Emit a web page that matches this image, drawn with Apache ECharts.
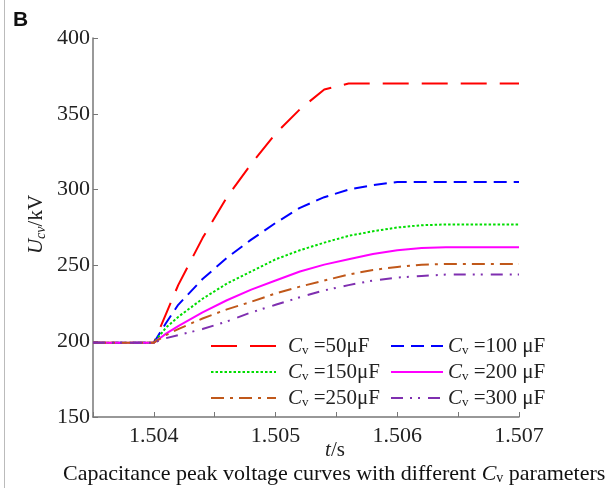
<!DOCTYPE html>
<html><head><meta charset="utf-8">
<script src="https://cdn.jsdelivr.net/npm/echarts@6/dist/echarts.min.js"></script>
<style>html,body{margin:0;padding:0;background:#fff}#c{width:612px;height:488px}</style>
</head><body><div id="c"></div>
<script>
var t = [1.5035, 1.504, 1.5041, 1.5042, 1.5044, 1.5046, 1.5048, 1.505, 1.5052, 1.5054, 1.5056, 1.5058, 1.506, 1.5062, 1.5064, 1.5066, 1.507];
var cv50  = [199, 199, 218, 237, 268, 295, 317, 337, 353, 366, 370, 370, 370, 370, 370, 370, 370];
var cv100 = [199, 199, 212, 224, 241, 255, 267, 278, 288, 295, 300, 303, 305, 305, 305, 305, 305];
var cv150 = [199, 199, 209, 216, 228, 238, 246, 254, 260, 265, 269.5, 272.5, 275, 276.5, 277, 277, 277];
var cv200 = [199, 199, 205, 210, 219, 227, 234, 240, 246, 250.5, 254, 257.5, 260, 261.5, 262, 262, 262];
var cv250 = [199, 199, 204, 208, 215, 221, 226, 231.5, 236, 240, 244, 247, 249, 250.5, 251, 251, 251];
var cv300 = [199, 199, 202, 204, 208, 213, 219, 224, 229, 233.5, 237, 240, 242, 243, 244, 244, 244];
var names = ['50μF', '100μF', '150μF', '200μF', '250μF', '300μF'];
var legendLabels = ['=50μF', '=100 μF', '=150μF', '=200 μF', '=250μF', '=300 μF'];
var yTicks = [150, 200, 250, 300, 350, 400];
var xLabels = [1.504, 1.505, 1.506, 1.507];

var colors = ['#ff0000', '#0000ff', '#00dd00', '#ff00ff', '#c0581a', '#7f2fb0'];
var dashes = [[26, 13], [13, 7], [2.5, 2], 'solid', [13, 6, 3, 6], [12, 7, 2, 6, 2, 8]];
var vals = [cv50, cv100, cv150, cv200, cv250, cv300];
var serif = '"Liberation Serif", "Times New Roman", serif';

function pairs(v) { return t.map(function (x, i) { return [x, v[i]]; }); }
var series = vals.map(function (v, i) {
  return {
    type: 'line', name: names[i], data: pairs(v), showSymbol: false, symbol: 'none',
    lineStyle: { color: colors[i], width: 2, type: dashes[i] }, itemStyle: { color: colors[i] },
    animation: false
  };
});
function mkRich(pad) {
  return {
    c: { fontFamily: serif, fontStyle: 'italic', fontSize: 21, color: '#222', lineHeight: 22, padding: [0, 0, 0, pad] },
    v: { fontFamily: serif, fontSize: 13, color: '#222', verticalAlign: 'bottom', lineHeight: 22, padding: [10, 0, 0, 0] },
    n: { fontFamily: serif, fontSize: 21, color: '#222', lineHeight: 22 }
  };
}
function legendFmt(n) { return '{c|C}{v|v}{n| ' + legendLabels[names.indexOf(n)] + '}'; }
function mkLegend(list, left, w, pad) {
  return {
    data: list, orient: 'vertical', left: left, top: 329, itemWidth: w, itemHeight: 14,
    itemGap: 3, formatter: legendFmt, itemStyle: { opacity: 0 },
    textStyle: { rich: mkRich(pad) }, selectedMode: false
  };
}
var opt = {
  backgroundColor: '#fff',
  animation: false,
  grid: { left: 93, right: 93, top: 38, bottom: 71, containLabel: false },
  xAxis: {
    type: 'value', min: 1.5035, max: 1.507, interval: 0.0005,
    axisLine: { show: true, lineStyle: { color: '#777', width: 1.5 } },
    axisTick: { show: true, inside: true, length: 5, lineStyle: { color: '#777' } },
    splitLine: { show: false },
    axisLabel: {
      color: '#222', fontFamily: serif, fontSize: 22, margin: 8,
      formatter: function (v) {
        for (var i = 0; i < xLabels.length; i++) if (Math.abs(v - xLabels[i]) < 1e-7) return xLabels[i].toFixed(3);
        return '';
      }
    },
    name: '{i|t}{n|/s}', nameLocation: 'middle', nameGap: 23, nameMoveOverlap: false,
    nameTextStyle: { padding: [0, 0, 0, 58], rich: { i: { fontFamily: serif, fontStyle: 'italic', fontSize: 21, color: '#222' }, n: { fontFamily: serif, fontSize: 21, color: '#222' } } }
  },
  yAxis: {
    type: 'value', min: 150, max: 400, interval: 50,
    axisLine: { show: true, lineStyle: { color: '#777', width: 1.5 } },
    axisTick: { show: true, inside: true, length: 5, lineStyle: { color: '#777' } },
    splitLine: { show: false },
    axisLabel: { color: '#222', fontFamily: serif, fontSize: 22, margin: 3,
      formatter: function (v) { return yTicks.indexOf(v) >= 0 ? String(v) : ''; } },
    name: '{i|U}{s|cv}{n|/kV}', nameLocation: 'middle', nameGap: 45, nameRotate: 90, nameMoveOverlap: false,
    nameTextStyle: { padding: [0, 0, 0, 6], rich: {
      i: { fontFamily: serif, fontStyle: 'italic', fontSize: 21, color: '#222' },
      s: { fontFamily: serif, fontStyle: 'italic', fontSize: 14, color: '#222', verticalAlign: 'bottom', padding: [10, 0, 0, 0] },
      n: { fontFamily: serif, fontSize: 21, color: '#222' } } }
  },
  legend: [mkLegend([names[0], names[2], names[4]], 205, 65, 7), mkLegend([names[1], names[3], names[5]], 385, 52, 0)],
  graphic: [
    { type: 'line', shape: { x1: 4.5, y1: 0, x2: 4.5, y2: 488 }, style: { stroke: '#bbb', lineWidth: 1 } },
    { type: 'text', left: 13, top: 10, style: { text: 'B', font: 'bold 21px "Liberation Sans", Arial, sans-serif', fill: '#111' } },
    { type: 'text', left: 63, top: 463, style: {
      text: '{n|Capacitance peak voltage curves with different }{c|C}{v|v}{n| parameters}',
      rich: {
        n: { fontFamily: serif, fontSize: 22, fill: '#111' },
        c: { fontFamily: serif, fontStyle: 'italic', fontSize: 22, fill: '#111' },
        v: { fontFamily: serif, fontSize: 14, fill: '#111', verticalAlign: 'bottom', padding: [9, 0, 0, 0] }
      } } }
  ],
  series: series
};
var chart = echarts.init(document.getElementById('c'), null, { renderer: 'canvas' });
chart.setOption(opt);
</script></body></html>
